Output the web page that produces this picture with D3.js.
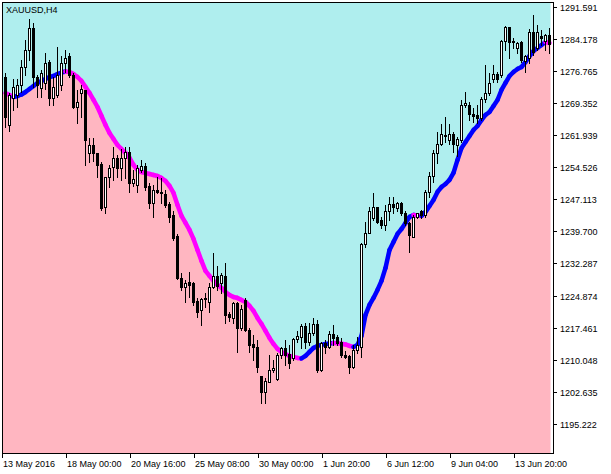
<!DOCTYPE html>
<html lang="en">
<head>
<meta charset="UTF-8">
<title>XAUUSD,H4</title>
<style>
  html, body { margin: 0; padding: 0; background: #ffffff; }
  svg { display: block; font-family: "Liberation Sans", Arial, sans-serif; }
  .axis-label { font-size: 9px; fill: #000; }
  .title { font-size: 9px; fill: #000; }
</style>
<script src="https://cdnjs.cloudflare.com/ajax/libs/d3/7.8.5/d3.min.js"></script>
</head>
<body>
<script>
// candles, H4 bars
var opens = [1275.4,1264.3,1270.4,1271.2,1273.5,1277.7,1281.6,1286.6,1275.4,1272.9,
  1273.9,1278.9,1270.4,1271.2,1273.5,1278.7,1280.1,1275.8,1268.5,1271.7,
  1272.4,1257.7,1259.7,1257.7,1255.3,1245.4,1252.3,1254.5,1256.6,1254.3,
  1256.6,1258.1,1250.8,1250.4,1253.9,1254.8,1250.2,1246.3,1249.3,1248.9,
  1248.3,1246.0,1243.5,1238.6,1228.9,1226.9,1227.9,1227.7,1223.7,1221.6,
  1224.0,1223.5,1226.9,1229.4,1227.7,1229.4,1220.6,1219.6,1223.2,1217.3,
  1223.9,1216.9,1213.6,1213.1,1206.3,1202.7,1205.0,1207.8,1205.6,1211.2,
  1212.7,1211.3,1210.4,1214.8,1215.4,1217.9,1214.2,1216.2,1218.3,1207.7,
  1213.9,1213.1,1216.0,1215.2,1214.2,1211.2,1210.9,1208.3,1212.3,1213.0,
  1236.9,1239.4,1242.7,1245.3,1242.3,1241.2,1244.3,1246.0,1245.0,1246.3,
  1243.9,1241.7,1238.5,1243.1,1244.3,1243.5,1248.9,1252.5,1257.7,1260.0,
  1262.0,1260.8,1262.3,1259.7,1260.8,1268.9,1268.9,1266.8,1266.6,1265.8,
  1270.2,1271.6,1274.8,1276.1,1275.9,1283.7,1286.8,1283.7,1282.1,1283.4,
  1279.0,1279.7,1285.7,1282.0,1284.9,1283.7,1285.1];
var highs = [1276.3,1271.6,1275.0,1275.0,1279.3,1283.9,1288.7,1287.8,1275.8,1277.0,
  1280.8,1279.3,1275.4,1282.4,1280.1,1281.6,1280.8,1276.2,1272.4,1273.5,
  1272.4,1261.2,1261.2,1257.7,1255.8,1252.3,1255.0,1259.3,1257.3,1258.7,
  1259.3,1259.3,1253.9,1255.0,1256.2,1255.5,1250.8,1250.4,1252.3,1252.0,
  1249.3,1246.6,1244.3,1239.0,1230.0,1228.5,1230.4,1228.1,1224.3,1224.3,
  1225.4,1227.7,1234.6,1231.6,1230.0,1232.3,1221.2,1223.5,1223.5,1222.7,
  1224.3,1217.3,1215.8,1214.6,1206.3,1205.8,1211.2,1210.0,1211.6,1213.1,
  1214.6,1213.5,1215.0,1216.6,1218.2,1218.5,1218.5,1219.6,1219.3,1214.2,
  1214.6,1216.6,1218.1,1215.8,1215.0,1212.0,1211.2,1213.5,1215.4,1237.0,
  1241.9,1245.4,1248.6,1245.4,1243.1,1245.8,1247.7,1247.7,1246.6,1246.6,
  1244.3,1241.9,1243.5,1244.0,1244.6,1249.3,1253.5,1258.5,1262.7,1264.6,
  1266.2,1264.6,1262.7,1261.6,1270.1,1271.9,1269.7,1268.1,1268.9,1270.8,
  1278.1,1276.2,1278.1,1276.6,1283.9,1287.2,1287.0,1284.4,1283.5,1283.7,
  1280.4,1286.4,1289.6,1287.4,1286.2,1285.4,1286.7];
var lows = [1263.9,1263.0,1267.7,1268.5,1272.0,1275.8,1279.3,1273.1,1270.8,1270.8,
  1272.7,1268.9,1268.9,1270.8,1272.4,1276.6,1275.4,1268.1,1264.7,1266.2,
  1255.0,1255.8,1256.0,1252.3,1244.6,1243.9,1250.0,1251.6,1252.3,1251.6,
  1252.0,1248.9,1250.2,1248.9,1253.5,1249.3,1245.1,1243.1,1248.5,1246.3,
  1245.4,1241.9,1237.7,1228.6,1226.2,1223.5,1224.6,1222.7,1220.0,1218.1,
  1222.3,1221.2,1226.6,1226.2,1225.4,1218.5,1218.9,1218.5,1211.9,1216.9,
  1216.6,1211.9,1210.0,1207.3,1200.0,1200.0,1205.0,1207.3,1205.4,1210.4,
  1208.9,1208.1,1210.0,1214.2,1212.7,1212.7,1213.5,1215.8,1207.3,1207.5,
  1211.6,1212.7,1213.5,1213.5,1210.8,1210.4,1206.9,1208.1,1211.6,1210.8,
  1236.2,1239.3,1242.3,1241.6,1240.4,1240.0,1242.3,1243.9,1244.3,1243.5,
  1241.2,1235.0,1238.3,1242.7,1242.9,1243.1,1247.7,1251.2,1255.4,1259.7,
  1260.4,1260.0,1258.1,1257.0,1260.4,1268.5,1265.4,1265.0,1264.7,1265.4,
  1269.7,1271.2,1274.3,1274.3,1275.4,1281.6,1279.7,1282.0,1280.8,1278.9,
  1276.6,1278.5,1280.4,1281.6,1282.8,1281.6,1280.8];
var closes = [1266.2,1271.2,1273.0,1273.5,1277.6,1281.6,1286.6,1275.4,1273.5,1276.2,
  1278.5,1270.4,1273.1,1275.8,1278.7,1279.8,1275.8,1268.5,1269.7,1272.5,
  1260.8,1259.7,1257.7,1255.0,1245.0,1252.3,1254.3,1256.6,1254.3,1256.6,
  1258.1,1250.8,1251.9,1254.3,1254.8,1250.0,1246.3,1249.3,1248.8,1248.5,
  1245.8,1243.1,1238.1,1228.9,1226.9,1227.7,1227.3,1223.5,1221.2,1224.0,
  1224.3,1226.9,1229.4,1227.1,1229.6,1220.4,1219.9,1223.2,1217.3,1221.7,
  1216.9,1213.5,1212.9,1208.3,1202.7,1205.2,1207.7,1208.1,1211.2,1212.7,
  1211.2,1209.2,1214.8,1215.6,1217.9,1214.2,1216.3,1218.2,1207.7,1213.9,
  1213.1,1216.0,1215.0,1213.9,1211.2,1210.8,1208.3,1212.3,1213.5,1236.9,
  1239.4,1244.4,1245.3,1241.9,1241.2,1244.4,1246.0,1245.3,1246.3,1243.9,
  1241.6,1238.9,1243.1,1243.9,1243.4,1248.9,1252.5,1257.7,1260.0,1262.1,
  1261.8,1262.3,1260.0,1261.0,1268.9,1269.4,1266.8,1266.4,1265.8,1270.2,
  1271.6,1273.9,1276.1,1274.8,1283.7,1286.8,1283.5,1283.4,1283.1,1279.3,
  1280.2,1285.7,1281.2,1285.7,1284.3,1285.1,1282.9];

// smoothed average line, one value per bar
var maLine = [1271.67,1271.20,1270.74,1270.97,1271.32,1271.90,1272.59,1273.28,1273.98,1274.44,
  1274.90,1275.36,1275.59,1276.05,1276.40,1276.63,1276.52,1276.05,1275.36,1274.44,
  1273.05,1271.67,1270.05,1268.43,1266.36,1264.28,1262.43,1261.05,1259.66,1258.73,
  1257.81,1256.66,1255.04,1253.89,1253.43,1253.20,1252.96,1252.73,1252.50,1252.04,
  1251.35,1250.19,1248.58,1245.81,1243.27,1241.65,1240.03,1237.96,1235.42,1232.88,
  1230.57,1229.41,1228.26,1227.33,1226.64,1225.72,1225.02,1224.56,1224.33,1223.87,
  1223.41,1222.49,1221.33,1219.71,1218.33,1216.71,1215.09,1213.71,1212.56,1211.86,
  1211.40,1210.94,1210.71,1210.48,1210.36,1210.94,1211.86,1212.79,1213.25,1213.48,
  1213.71,1213.83,1213.94,1213.87,1213.76,1213.59,1213.25,1213.02,1213.48,1215.56,
  1220.41,1222.72,1224.33,1226.18,1228.26,1231.26,1235.42,1237.26,1239.11,1240.26,
  1241.65,1243.03,1243.50,1243.38,1243.27,1244.19,1245.57,1246.96,1248.81,1249.96,
  1250.65,1251.58,1253.20,1256.20,1258.97,1260.35,1261.74,1263.12,1264.05,1265.43,
  1266.59,1267.28,1268.66,1270.05,1272.36,1273.98,1275.59,1276.52,1277.21,1277.67,
  1278.82,1280.21,1281.36,1282.06,1282.75,1283.44,1283.21];

// price scale labels
var yTicks = [1291.591,1284.178,1276.765,1269.352,1261.939,1254.526,1247.113,
  1239.700,1232.287,1224.874,1217.461,1210.048,1202.635,1195.222];

// time scale labels and the bar each one sits on
var xTickLabels = ['13 May 2016','18 May 00:00','20 May 16:00','25 May 08:00','30 May 00:00',
  '1 Jun 20:00','6 Jun 12:00','9 Jun 04:00','13 Jun 20:00'];
var xTickBars = [0,15,31,47,63,79,95,111,127];

var vars = {
  w: 611,
  h: 474,
  left: 2,
  top: 2,
  right: 554,
  bottom: 454
};

(function() {
  var svg = d3.select('body').append('svg')
    .attr('width', vars.w)
    .attr('height', vars.h);

  svg.append('rect').attr('width', vars.w).attr('height', vars.h).attr('fill', '#ffffff');

  var n = closes.length;
  var x = d3.scaleLinear().domain([0, n - 1]).range([5.5, 5.5 + 4 * (n - 1)]);
  var y = d3.scaleLinear().domain([1188.29, 1292.68]).range([vars.bottom, vars.top]);

  // fill points: stretch first value to frame edge, last to end of last bar
  var pts = maLine.map(function(v, i) { return { x: x(i), v: v }; });
  pts.unshift({ x: vars.left, v: maLine[0] });
  pts.push({ x: x(n - 1) + 1, v: maLine[n - 1] });

  svg.append('path')
    .datum(pts)
    .attr('fill', '#afeeee')
    .attr('d', d3.area().x(function(d) { return d.x; }).y0(vars.top).y1(function(d) { return y(d.v); }));

  svg.append('path')
    .datum(pts)
    .attr('fill', '#ffb6c1')
    .attr('d', d3.area().x(function(d) { return d.x; }).y0(vars.bottom).y1(function(d) { return y(d.v); }));

  // line: blue while rising, magenta while falling
  var segs = d3.range(1, n).map(function(i) {
    return { a: i - 1, b: i, up: maLine[i] >= maLine[i - 1] };
  });
  var segLine = d3.line().x(function(i) { return x(i); }).y(function(i) { return y(maLine[i]); });
  svg.append('g').selectAll('path')
    .data(segs)
    .enter()
    .append('path')
    .attr('d', function(s) { return segLine([s.a, s.b]); })
    .attr('fill', 'none')
    .attr('stroke', function(s) { return s.up ? '#0000ff' : '#ff00ff'; })
    .attr('stroke-width', 4.5)
    .attr('stroke-linecap', 'round');

  // candles
  var g = svg.append('g').attr('shape-rendering', 'crispEdges');
  var bars = d3.range(n);

  g.selectAll('line.wick')
    .data(bars)
    .enter()
    .append('line')
    .attr('class', 'wick')
    .attr('x1', function(i) { return x(i); })
    .attr('x2', function(i) { return x(i); })
    .attr('y1', function(i) { return Math.round(y(highs[i])); })
    .attr('y2', function(i) { return Math.round(y(lows[i])) + 1; })
    .attr('stroke', '#000')
    .attr('stroke-width', 1);

  g.selectAll('rect.body')
    .data(bars)
    .enter()
    .append('rect')
    .attr('class', 'body')
    .attr('x', function(i) { return x(i) - 1; })
    .attr('width', 2)
    .attr('y', function(i) { return Math.round(y(Math.max(opens[i], closes[i]))) + 0.5; })
    .attr('height', function(i) {
      var h = Math.round(y(Math.min(opens[i], closes[i]))) - Math.round(y(Math.max(opens[i], closes[i])));
      return Math.max(h, 1);
    })
    .attr('fill', function(i) { return closes[i] >= opens[i] ? '#ffffff' : '#000000'; })
    .attr('stroke', '#000')
    .attr('stroke-width', 1);

  // frame
  svg.append('rect')
    .attr('x', vars.left + 0.5)
    .attr('y', vars.top + 0.5)
    .attr('width', vars.right - vars.left - 1)
    .attr('height', vars.bottom - vars.top - 1)
    .attr('fill', 'none')
    .attr('stroke', '#000')
    .attr('stroke-width', 1)
    .attr('shape-rendering', 'crispEdges');

  // price axis
  var ya = svg.append('g').attr('shape-rendering', 'crispEdges');
  ya.selectAll('line')
    .data(yTicks)
    .enter()
    .append('line')
    .attr('x1', vars.right - 1)
    .attr('x2', vars.right + 3)
    .attr('y1', function(d) { return Math.round(y(d)) + 0.5; })
    .attr('y2', function(d) { return Math.round(y(d)) + 0.5; })
    .attr('stroke', '#000');
  svg.selectAll('text.ylab')
    .data(yTicks)
    .enter()
    .append('text')
    .attr('class', 'axis-label ylab')
    .attr('x', vars.right + 6)
    .attr('y', function(d) { return Math.round(y(d)) + 4; })
    .text(function(d) { return d.toFixed(3); });

  // time axis
  var tx = function(k) { return k === 0 ? vars.left + 0.5 : Math.round(x(xTickBars[k])) + 0.5; };
  var xa = svg.append('g').attr('shape-rendering', 'crispEdges');
  xa.selectAll('line')
    .data(xTickLabels)
    .enter()
    .append('line')
    .attr('x1', function(d, k) { return tx(k); })
    .attr('x2', function(d, k) { return tx(k); })
    .attr('y1', vars.bottom - 1)
    .attr('y2', vars.bottom + 4)
    .attr('stroke', '#000');
  svg.selectAll('text.xlab')
    .data(xTickLabels)
    .enter()
    .append('text')
    .attr('class', 'axis-label xlab')
    .attr('x', function(d, k) { return tx(k) + 0.5; })
    .attr('y', vars.bottom + 13)
    .text(function(d) { return d; });

  svg.append('text')
    .attr('class', 'title')
    .attr('x', 6)
    .attr('y', 13)
    .text('XAUUSD,H4');
})();
</script>
</body>
</html>
